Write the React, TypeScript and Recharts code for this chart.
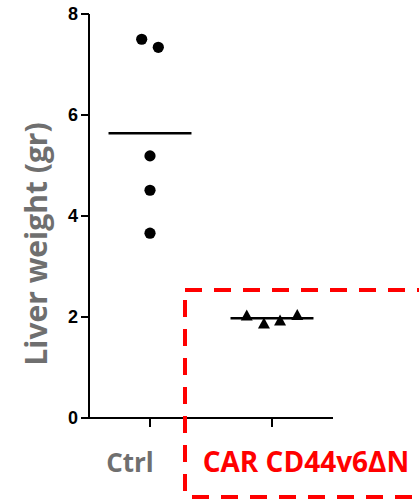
import React from 'react'
import {
  ScatterChart, Scatter, XAxis, YAxis, ReferenceLine,
} from 'recharts'

// group labels and where each group sits on the x scale
const categories = ['Ctrl', 'CAR CD44v6\u0394N']
const categoryPos = [0.5, 1.5]
const categoryColors = ['#6f6f6f', '#ff0000']

// Ctrl animals (circles)
const ctrlX = [0.432, 0.568, 0.5, 0.5, 0.5]
const ctrlY = [7.5, 7.34, 5.19, 4.51, 3.66]

// CAR CD44v6ΔN animals (triangles)
const carX = [1.293, 1.434, 1.566, 1.707]
const carY = [2.04, 1.88, 1.94, 2.05]

const yTicks = [0, 2, 4, 6, 8]

const ctrlData = ctrlX.map((x, i) => ({ x, y: ctrlY[i] }))
const carData = carX.map((x, i) => ({ x, y: carY[i] }))
const mean = (a: number[]) => a.reduce((s, v) => s + v, 0) / a.length
const MEAN_HALF = 0.34

const GRAY = '#6f6f6f'
const RED = '#ff0000'
const LABEL_FONT = '"Open Sans", sans-serif'
// labels are not centred under their ticks in the original
const labelShift = [-20, 34]
const labelSize = [26, 28]

function Dot(props: any) {
  return <circle cx={props.cx} cy={props.cy} r={5.6} fill="#000" />
}

function Tri(props: any) {
  const { cx, cy } = props
  const h = 11
  const w = 12
  return (
    <polygon
      points={`${cx},${cy - h / 2} ${cx - w / 2},${cy + h / 2} ${cx + w / 2},${cy + h / 2}`}
      fill="#000"
    />
  )
}

function CategoryTick(props: any) {
  const { x, y, payload } = props
  const i = categoryPos.indexOf(payload.value)
  return (
    <text
      x={x + labelShift[i]}
      y={y + 43}
      textAnchor="middle"
      fill={categoryColors[i]}
      style={{ fontFamily: LABEL_FONT, fontWeight: 700, fontSize: labelSize[i] }}
    >
      {categories[i]}
    </text>
  )
}

function YTitle(props: any) {
  const vb = props.viewBox
  const cx = vb.x + 35
  const cy = 244
  return (
    <text
      x={cx}
      y={cy}
      transform={`rotate(-90, ${cx}, ${cy})`}
      textAnchor="middle"
      dominantBaseline="central"
      fill={GRAY}
      style={{ fontFamily: LABEL_FONT, fontWeight: 700, fontSize: 30 }}
    >
      Liver weight (gr)
    </text>
  )
}

export default function App() {
  return (
    <div style={{ position: 'absolute', left: 0, top: 0, width: 419, height: 500, background: '#fff' }}>
      <ScatterChart width={419} height={500} margin={{ top: 14, right: 86, bottom: 22, left: 0 }}>
        <XAxis
          type="number"
          dataKey="x"
          domain={[0, 2]}
          ticks={categoryPos}
          tick={<CategoryTick />}
          height={60}
          tickSize={9}
          axisLine={{ stroke: '#000', strokeWidth: 2 }}
          tickLine={{ stroke: '#000', strokeWidth: 2 }}
        />
        <YAxis
          type="number"
          dataKey="y"
          domain={[0, 8]}
          ticks={yTicks}
          width={89}
          tickSize={8}
          tickMargin={3}
          axisLine={{ stroke: '#000', strokeWidth: 2 }}
          tickLine={{ stroke: '#000', strokeWidth: 2 }}
          tick={{ fill: '#000', fontSize: 18, fontWeight: 700, fontFamily: 'Liberation Sans' }}
          label={<YTitle />}
        />
        <ReferenceLine
          segment={[{ x: categoryPos[0] - MEAN_HALF, y: mean(ctrlY) }, { x: categoryPos[0] + MEAN_HALF, y: mean(ctrlY) }]}
          stroke="#000"
          strokeWidth={2.5}
        />
        <ReferenceLine
          segment={[{ x: categoryPos[1] - MEAN_HALF, y: mean(carY) }, { x: categoryPos[1] + MEAN_HALF, y: mean(carY) }]}
          stroke="#000"
          strokeWidth={2.5}
        />
        <Scatter data={ctrlData} shape={<Dot />} isAnimationActive={false} />
        <Scatter data={carData} shape={<Tri />} isAnimationActive={false} />
      </ScatterChart>
      <svg width={419} height={500} style={{ position: 'absolute', left: 0, top: 0, pointerEvents: 'none' }}>
        <line x1={185} y1={290} x2={430} y2={290} stroke={RED} strokeWidth={4} strokeDasharray="17 12" />
        <line x1={185} y1={300} x2={185} y2={500} stroke={RED} strokeWidth={4} strokeDasharray="17 12" />
        <line x1={192} y1={497} x2={430} y2={497} stroke={RED} strokeWidth={4} strokeDasharray="17 12" />
      </svg>
    </div>
  )
}
